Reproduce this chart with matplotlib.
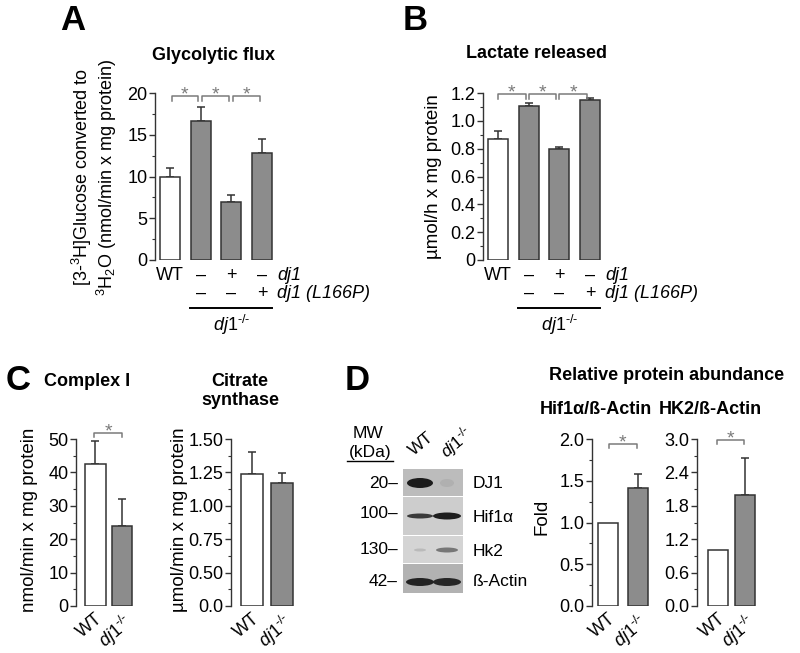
import numpy as np
import matplotlib
matplotlib.use("Agg")
import matplotlib.pyplot as plt
from matplotlib.ticker import MultipleLocator
from matplotlib.patches import Rectangle, Ellipse

plt.rcParams['font.family'] = ['Liberation Sans', 'DejaVu Sans']
plt.rcParams['mathtext.fontset'] = 'custom'
plt.rcParams['mathtext.rm'] = 'Liberation Sans'
plt.rcParams['mathtext.it'] = 'Liberation Sans:italic'
plt.rcParams['mathtext.bf'] = 'Liberation Sans:bold'

#Values
flux_vals = [10.0, 16.6, 6.9, 12.8]
flux_errs = [1.0, 1.7, 0.9, 1.7]
lact_vals = [0.87, 1.11, 0.80, 1.15]
lact_errs = [0.06, 0.02, 0.015, 0.012]
cplx_vals = [42.4, 23.9]
cplx_errs = [7.1, 8.1]
cs_vals = [1.24, 1.17]
cs_errs = [0.16, 0.075]
hif_vals = [1.0, 1.41]
hif_errs = [0.0, 0.17]
hk2_vals = [1.0, 1.99]
hk2_errs = [0.0, 0.66]

#Labels
dj1_row = ["WT", "–", "+", "–"]
l166p_row = ["", "–", "–", "+"]
geno = ["WT", "$\\mathit{dj1}^{\\mathit{\u2010/\u2010}}$"]
blot_proteins = ["DJ1", "Hif1α", "Hk2", "ß-Actin"]
blot_mw = ["20", "100", "130", "42"]

#Tick positions and labels (citrate axis starts at 0.25 but is labelled 0.0 in the original)
flux_ticks = [0, 5, 10, 15, 20]
flux_lbls = ["0", "5", "10", "15", "20"]
lact_ticks = [0, 0.2, 0.4, 0.6, 0.8, 1.0, 1.2]
lact_lbls = ["0", "0.2", "0.4", "0.6", "0.8", "1.0", "1.2"]
cplx_ticks = [0, 10, 20, 30, 40, 50]
cplx_lbls = ["0", "10", "20", "30", "40", "50"]
cs_ticks = [0.25, 0.5, 0.75, 1.0, 1.25, 1.5]
cs_lbls = ["0.0", "0.50", "0.75", "1.00", "1.25", "1.50"]
hif_ticks = [0, 0.5, 1.0, 1.5, 2.0]
hif_lbls = ["0.0", "0.5", "1.0", "1.5", "2.0"]
hk2_ticks = [0, 0.6, 1.2, 1.8, 2.4, 3.0]
hk2_lbls = ["0.0", "0.6", "1.2", "1.8", "2.4", "3.0"]

W, H = 800, 653
fig = plt.figure(figsize=(8, 6.53), dpi=100)

WHITE = "white"
GREY = "#8c8c8c"
EDGE = "#333333"
BRK = "#7a7a7a"
TICKFS = 13
TITLEFS = 13

#Overlay axes in pixel units for free text
ov = fig.add_axes([0, 0, 1, 1])
ov.set_xlim(0, W)
ov.set_ylim(H, 0)
ov.axis("off")


def pix_axes(left, top, width, height):
    return fig.add_axes([left / W, 1 - (top + height) / H, width / W, height / H])


def bar_panel(left, top, unit, xmin, xmax, vals, errs, colors, bw, ticks, lbls, minor):
    ax = pix_axes(left, top, (xmax - xmin) * unit, 167)
    ax.patch.set_alpha(0)
    x = np.arange(len(vals))
    base = ticks[0]
    ax.bar(x, np.array(vals) - base, bw, bottom=base, color=colors, edgecolor=EDGE, linewidth=1.1, zorder=2)
    for xi, v, e in zip(x, vals, errs):
        if e > 0:
            ax.errorbar(xi, v, yerr=[[0], [e]], fmt="none", ecolor=EDGE,
                        elinewidth=1.1, capsize=3, capthick=1.1, zorder=1)
    ax.set_xlim(xmin, xmax)
    ax.set_ylim(ticks[0], ticks[-1])
    ax.spines[["top", "right", "bottom"]].set_visible(False)
    ax.spines["left"].set_color(EDGE)
    ax.spines["left"].set_linewidth(1.0)
    ax.set_yticks(ticks)
    ax.set_yticklabels(lbls)
    ax.yaxis.set_minor_locator(MultipleLocator(minor))
    ax.tick_params(axis="y", which="major", direction="out", length=4, width=1, color=EDGE,
                   labelsize=TICKFS, pad=1.5)
    ax.tick_params(axis="y", which="minor", direction="out", length=2.5, width=0.8, color=EDGE)
    ax.set_xticks([])
    return ax


def bracket(ax, x1, x2, y, h):
    ax.plot([x1, x1, x2, x2], [y - h, y, y, y - h], color=BRK, lw=1.1, clip_on=False)
    ax.annotate("*", xy=((x1 + x2) / 2, y), xytext=(0, -2.5), textcoords="offset points",
                ha="center", va="baseline", color=BRK, fontsize=14, annotation_clip=False)


def geno_labels(ax):
    ax.set_xticks([0, 1])
    ax.set_xticklabels(geno, rotation=40, ha="right", rotation_mode="anchor", fontsize=TICKFS)
    ax.tick_params(axis="x", length=0, pad=3)


def combo_rows(ax):
    tr = ax.get_xaxis_transform()
    for i, s in enumerate(dj1_row):
        ax.text(i, -0.09, s, transform=tr, ha="center", va="center", fontsize=13)
    for i, s in enumerate(l166p_row):
        ax.text(i, -0.2, s, transform=tr, ha="center", va="center", fontsize=13)
    ax.text(3.5, -0.09, "dj1", transform=tr, ha="left", va="center", fontsize=13, style="italic")
    ax.text(3.5, -0.2, "dj1 (L166P)", transform=tr, ha="left", va="center", fontsize=13, style="italic")
    ax.plot([0.65, 3.33], [-0.288, -0.288], transform=tr, color="black", lw=1.4, clip_on=False)
    ax.text(2.0, -0.39, geno[1], transform=tr, ha="center", va="center", fontsize=13)


#Panel A
axA = bar_panel(155, 93, 30.7, -0.49, 3.4, flux_vals, flux_errs, [WHITE, GREY, GREY, GREY], 0.65,
                flux_ticks, flux_lbls, 2.5)
combo_rows(axA)
for a, b in [(0, 1), (1, 2), (2, 3)]:
    bracket(axA, a + 0.05, b - 0.08, 19.6, 0.5)

#Panel B
axB = bar_panel(483, 93, 30.7, -0.49, 3.4, lact_vals, lact_errs, [WHITE, GREY, GREY, GREY], 0.65,
                lact_ticks, lact_lbls, 0.1)
combo_rows(axB)
for a, b in [(0, 1), (1, 2), (2, 3)]:
    bracket(axB, a + 0.0, b - 0.1, 1.19, 0.03)

#Panel C
axC1 = bar_panel(76, 439, 26.7, -0.72, 1.45, cplx_vals, cplx_errs, [WHITE, GREY], 0.78,
                 cplx_ticks, cplx_lbls, 5)
geno_labels(axC1)
bracket(axC1, -0.03, 1.0, 51.8, 1.3)
axC2 = bar_panel(231, 439, 30.0, -0.7, 1.45, cs_vals, cs_errs, [WHITE, GREY], 0.75,
                 cs_ticks, cs_lbls, 0.125)
geno_labels(axC2)

#Panel D
axD1 = bar_panel(592, 439, 29.4, -0.55, 1.45, hif_vals, hif_errs, [WHITE, GREY], 0.68,
                 hif_ticks, hif_lbls, 0.25)
geno_labels(axD1)
bracket(axD1, 0.02, 0.98, 1.94, 0.05)
axD2 = bar_panel(697, 439, 27.5, -0.76, 1.45, hk2_vals, hk2_errs, [WHITE, GREY], 0.73,
                 hk2_ticks, hk2_lbls, 0.3)
geno_labels(axD2)
bracket(axD2, -0.04, 0.96, 2.98, 0.075)

#Western blot sketch
bl = pix_axes(403, 469, 60, 124)
bl.set_xlim(0, 60)
bl.set_ylim(124, 0)
bl.axis("off")
strips = [(0, 27, "#bcbcbc"), (28, 38, "#cdcdcd"), (67, 27, "#d4d4d4"), (95, 29, "#b2b2b2")]
for y0, h, c in strips:
    bl.add_patch(Rectangle((0, y0), 60, h, color=c, lw=0))
bands = [(17, 14, 26, 10, "#1c1c1c"), (44, 14, 14, 8, "#b0b0b0"),
         (17, 47, 26, 5, "#3a3a3a"), (44, 47, 28, 7, "#1e1e1e"),
         (17, 81, 12, 3, "#bababa"), (44, 81, 22, 5, "#777777"),
         (17, 113, 28, 8, "#222222"), (44, 113, 28, 8, "#262626")]
for cx, cy, w, h, c in bands:
    bl.add_patch(Ellipse((cx, cy), w, h, color=c, lw=0))

#Free text
for s, x, y in [("A", 73, 21), ("B", 415, 21), ("C", 18, 380), ("D", 357, 380)]:
    ov.text(x, y, s, fontsize=25, fontweight="heavy", ha="center", va="center")

ov.text(214, 55, "Glycolytic flux", fontsize=TITLEFS, fontweight="bold", ha="center", va="center")
ov.text(537, 53, "Lactate released", fontsize=TITLEFS, fontweight="bold", ha="center", va="center")
ov.text(87, 381, "Complex I", fontsize=TITLEFS, fontweight="bold", ha="center", va="center")
ov.text(240, 391, "Citrate\nsynthase", fontsize=TITLEFS, fontweight="bold", ha="center", va="center",
        linespacing=1.2)
ov.text(667, 375, "Relative protein abundance", fontsize=TITLEFS, fontweight="bold", ha="center", va="center")
ov.text(596, 410, "Hif1α/ß-Actin", fontsize=TITLEFS, fontweight="bold", ha="center", va="center")
ov.text(710, 410, "HK2/ß-Actin", fontsize=TITLEFS, fontweight="bold", ha="center", va="center")

ov.text(94, 177, "[3-$^3$H]Glucose converted to\n$^3$H$_2$O (nmol/min x mg protein)", fontsize=13,
        rotation=90, ha="center", va="center", linespacing=1.05)
ov.text(433, 177, "µmol/h x mg protein", fontsize=13.5, rotation=90, ha="center", va="center")
ov.text(30, 520, "nmol/min x mg protein", fontsize=13.5, rotation=90, ha="center", va="center")
ov.text(179, 520, "µmol/min x mg protein", fontsize=13.5, rotation=90, ha="center", va="center")
ov.text(542, 517, "Fold", fontsize=13.5, rotation=90, ha="center", va="center")

#Blot annotations
ov.text(368, 433, "MW", fontsize=12.5, ha="center", va="center")
ov.text(370, 452, "(kDa)", fontsize=12.5, ha="center", va="center")
ov.plot([347, 393], [461, 461], color="black", lw=1)
for s, y in zip(blot_mw, [483, 514, 550, 582]):
    ov.text(398, y, s + "–", fontsize=12.5, ha="right", va="center")
for s, y in zip(blot_proteins, [483, 517, 552, 582]):
    ov.text(473, y, s, fontsize=12.5, ha="left", va="center")
ov.text(421, 444, "WT", fontsize=12.5, rotation=40, ha="center", va="center")
ov.text(457, 443, geno[1], fontsize=12.5, rotation=40, ha="center", va="center")

fig.savefig("out.png", dpi=100)
